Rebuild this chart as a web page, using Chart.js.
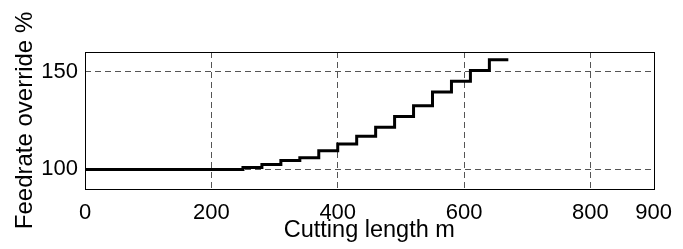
<!DOCTYPE html>
<html lang="en">
<head>
    <meta charset="UTF-8">
    <title>Feedrate override vs cutting length</title>
    <script src="https://cdn.jsdelivr.net/npm/chart.js"></script>
    <style>
        body {
            margin: 0;
            background-color: #fff;
        }
        .wrap {
            width: 683px;
            height: 249px;
            position: relative;
        }
    </style>
</head>
<body>
    <div class="wrap">
        <canvas id="chartCanvas"></canvas>
    </div>
    <script>
        // data
        const cuttingLength = [0, 250, 280, 310, 340, 370, 400, 430, 460, 490, 520, 550, 580, 610, 640, 670];
        const feedOverride = [100, 101, 102.5, 104.5, 106, 109.5, 113, 117, 121.5, 127, 132.5, 139.5, 145, 150.5, 156, 156];
        const xTicks = [0, 200, 400, 600, 800, 900];
        const yTicks = [100, 150];

        const points = cuttingLength.map((x, i) => ({ x: x, y: feedOverride[i] }));

        // frame round the plot area, like the matlab box
        const boxPlugin = {
            id: 'box',
            afterDraw(chart) {
                const a = chart.chartArea;
                const c = chart.ctx;
                c.save();
                c.strokeStyle = '#000';
                c.lineWidth = 1;
                c.strokeRect(Math.round(a.left) + 0.5, Math.round(a.top) + 0.5,
                    Math.round(a.right - a.left), Math.round(a.bottom - a.top));
                c.restore();
            }
        };

        const fontName = "'Liberation Sans', Arial, sans-serif";
        const gridCol = '#555';

        const ctx = document.getElementById('chartCanvas').getContext('2d');
        new Chart(ctx, {
            type: 'line',
            data: {
                datasets: [{
                    data: points,
                    stepped: true,
                    borderColor: '#000',
                    borderWidth: 3,
                    pointRadius: 0,
                    fill: false
                }]
            },
            options: {
                responsive: true,
                maintainAspectRatio: false,
                animation: false,
                layout: { padding: { top: 52, right: 24, left: 0, bottom: 0 } },
                plugins: {
                    legend: { display: false },
                    tooltip: { enabled: false }
                },
                scales: {
                    x: {
                        type: 'linear',
                        min: 0,
                        max: 900,
                        afterFit: (s) => { s.height = 60; },
                        afterBuildTicks: (s) => { s.ticks = xTicks.map(v => ({ value: v })); },
                        grid: {
                            drawTicks: false,
                            color: (c) => (c.tick && (c.tick.value === 0 || c.tick.value === 900)) ? 'rgba(0,0,0,0)' : gridCol,
                            lineWidth: 1
                        },
                        border: { display: false, dash: [6, 4] },
                        ticks: {
                            color: '#000',
                            padding: 11,
                            maxRotation: 0,
                            autoSkip: false,
                            font: { family: fontName, size: 22 }
                        },
                        title: {
                            display: true,
                            text: 'Cutting length m',
                            color: '#000',
                            font: { family: fontName, size: 23.5 },
                            padding: { top: 0, bottom: 4 }
                        }
                    },
                    y: {
                        min: 90,
                        max: 160,
                        afterFit: (s) => { s.width = 85; },
                        afterBuildTicks: (s) => { s.ticks = yTicks.map(v => ({ value: v })); },
                        grid: {
                            drawTicks: false,
                            color: gridCol,
                            lineWidth: 1
                        },
                        border: { display: false, dash: [6, 4] },
                        ticks: {
                            color: '#000',
                            padding: 7,
                            font: { family: fontName, size: 22 }
                        },
                        title: {
                            display: true,
                            text: 'Feedrate override %',
                            color: '#000',
                            font: { family: fontName, size: 24 },
                            padding: { top: 11, bottom: 0 }
                        }
                    }
                }
            },
            plugins: [boxPlugin]
        });
    </script>
</body>
</html>
